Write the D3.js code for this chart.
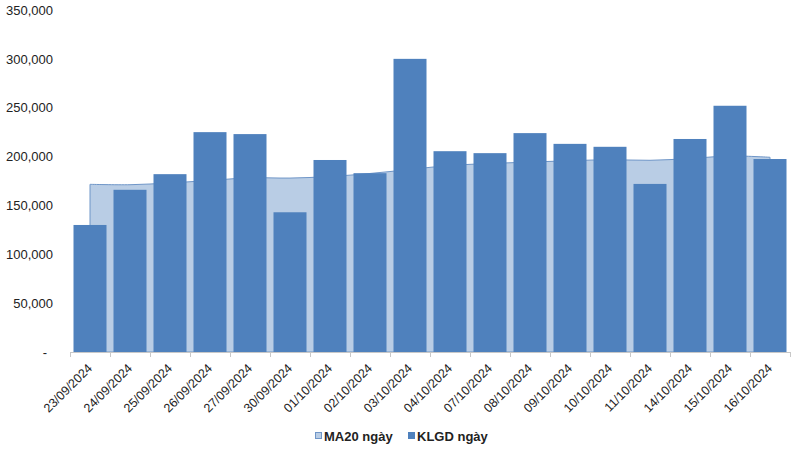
<!DOCTYPE html>
<html>
<head>
<meta charset="utf-8">
<script src="https://cdn.jsdelivr.net/npm/d3@7"></script>
<style>
  body { margin: 0; background: #fff; }
  svg { font-family: "Liberation Sans", Arial, sans-serif; }
</style>
</head>
<body>
<svg id="chart" width="804" height="450"></svg>
<script>
// ngày giao dịch
let dates = ["23/09/2024","24/09/2024","25/09/2024","26/09/2024","27/09/2024","30/09/2024",
    "01/10/2024","02/10/2024","03/10/2024","04/10/2024","07/10/2024","08/10/2024",
    "09/10/2024","10/10/2024","11/10/2024","14/10/2024","15/10/2024","16/10/2024"]
// KLGD ngày
let klgd = [130000,166000,182000,225000,223000,143000,196500,183000,300000,
    205500,203500,224000,213000,210000,172000,218000,252000,197500]
// MA20 ngày
let ma20 = [171600,171200,173000,175500,178300,178000,179600,182700,186800,
    190900,192900,194400,195700,196800,196200,198000,200600,199300]
let yTicks = [0,50000,100000,150000,200000,250000,300000,350000]

let svg = d3.select("#chart")
let plotLeft = 70, plotRight = 790, plotTop = 10, plotBottom = 352

let x = d3.scaleBand().domain(dates).range([plotLeft, plotRight])
    .paddingInner(0.175).paddingOuter(0.0875)
let y = d3.scaleLinear().domain([0, 350000]).range([plotBottom, plotTop])
let cx = d => x(d) + x.bandwidth() / 2

// vùng MA20 (phía sau cột)
let area = d3.area()
    .x((d, i) => cx(dates[i]))
    .y0(y(0))
    .y1(d => y(d))
    .curve(d3.curveCatmullRom.alpha(0.5))

svg.append("path")
    .datum(ma20)
    .attr("d", area)
    .attr("fill", "#b9cde5")
    .attr("stroke", "#6f96c8")
    .attr("stroke-width", 1)

// cột KLGD
svg.selectAll("rect.bar")
    .data(klgd)
    .enter()
    .append("rect")
    .attr("class", "bar")
    .attr("x", (d, i) => x(dates[i]))
    .attr("y", d => y(d))
    .attr("width", x.bandwidth())
    .attr("height", d => y(0) - y(d))
    .attr("fill", "#4f81bd")

// trục Y
let yAxis = svg.append("g")
    .attr("transform", `translate(${plotLeft - 17},0)`)
    .call(d3.axisLeft(y).tickValues(yTicks).tickSize(0)
        .tickFormat(d => d === 0 ? "-" : d3.format(",")(d)))
yAxis.select(".domain").remove()
yAxis.selectAll("text")
    .attr("x", 0)
    .attr("font-size", 13)
    .attr("font-family", "Liberation Sans, Arial, sans-serif")
    .attr("fill", "#222")
yAxis.selectAll("text").filter(d => d === 0).attr("x", -6)

// trục X
let xAxisG = svg.append("g")
svg.append("line")
    .attr("x1", plotLeft).attr("x2", plotRight)
    .attr("y1", plotBottom + 0.5).attr("y2", plotBottom + 0.5)
    .attr("stroke", "#c8c8c8")
let bounds = dates.map(d => x(d) - x.step() * x.paddingInner() / 2)
bounds.push(plotRight)
xAxisG.selectAll("line.tick")
    .data(bounds)
    .enter()
    .append("line")
    .attr("x1", d => Math.round(d) + 0.5).attr("x2", d => Math.round(d) + 0.5)
    .attr("y1", plotBottom).attr("y2", plotBottom + 5)
    .attr("stroke", "#c8c8c8")

xAxisG.selectAll("text")
    .data(dates)
    .enter()
    .append("text")
    .attr("transform", d => `translate(${cx(d) + 3},${plotBottom + 17}) rotate(-45)`)
    .attr("text-anchor", "end")
    .attr("font-size", 12.5)
    .attr("fill", "#222")
    .text(d => d)

// chú thích
let legend = [
    {name: "MA20 ngày", fill: "#b9cde5", stroke: "#6f96c8", x: 315},
    {name: "KLGD ngày", fill: "#4f81bd", stroke: "#4f81bd", x: 408}
]
let lg = svg.append("g")
legend.forEach(l => {
    lg.append("rect")
        .attr("x", l.x + 0.5).attr("y", 432.5)
        .attr("width", 6).attr("height", 6)
        .attr("fill", l.fill).attr("stroke", l.stroke)
    lg.append("text")
        .attr("x", l.x + 9).attr("y", 441)
        .attr("font-size", 13)
        .attr("font-weight", "bold")
        .attr("fill", "#222")
        .text(l.name)
})
</script>
</body>
</html>
